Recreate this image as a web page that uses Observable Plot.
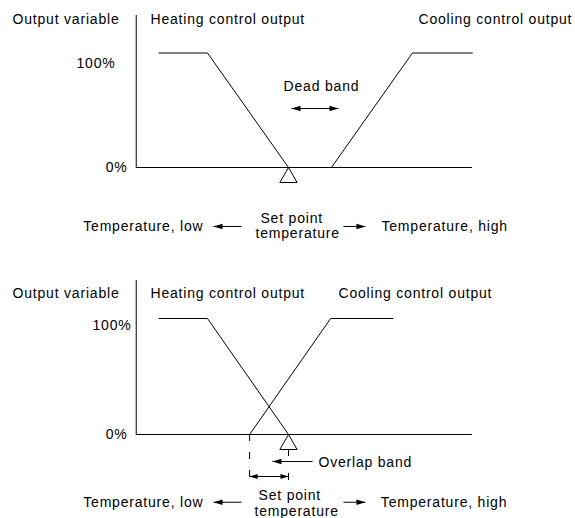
<!DOCTYPE html>
<html>
<head>
<meta charset="utf-8">
<script src="https://cdn.jsdelivr.net/npm/d3@7"></script>
<script src="https://cdn.jsdelivr.net/npm/@observablehq/plot@0.6"></script>
<style>
  body { margin: 0; background: #fff; }
  #chart svg { display: block; }
  #chart text { letter-spacing: 0.8px; }
</style>
</head>
<body>
<div id="chart"></div>
<script>
// Temperature is measured from the set point (units of proportional band / 10),
// output variable in percent.
const heatingX = [-16, -10, 0];
const heatingY = [100, 100, 0];
const coolingY = [0, 100, 100];
const deadBandCoolingX = [5.3, 15.3, 22.7];   // cooling starts after a dead band
const overlapCoolingX = [-4.8, 5.2, 12.9];    // cooling starts before the set point
const yTicks = [0, 100];
const yTickLabels = ["0%", "100%"];
const axisExtentX = [-18.8, 22.7];
const axisTopY = 132.8;

const toRows = (xs, ys) => xs.map((x, i) => ({x, y: ys[i]}));

// Filled arrowhead whose tip sits at the origin, pointing along +x.
const arrowHead = {
  draw(ctx, size) {
    const L = Math.sqrt(size / Math.PI);
    const W = L * 0.62;
    ctx.moveTo(0, 0);
    ctx.lineTo(-L, -W / 2);
    ctx.lineTo(-L, W / 2);
    ctx.closePath();
  }
};

function arrows(list, headLen) {
  return [
    Plot.link(list, {x1: "x1", x2: "x2", y1: "y", y2: "y", stroke: "black", strokeWidth: 1}),
    Plot.dot(list, {
      x: "x2", y: "y", symbol: arrowHead, r: headLen,
      rotate: d => (d.x2 < d.x1 ? 180 : 0), fill: "black", stroke: "none"
    })
  ];
}

// One text mark per anchor, since textAnchor is a constant option.
function labelMarks(labels) {
  return ["start", "middle", "end"].map(a =>
    Plot.text(labels.filter(d => d.anchor === a), {
      x: "x", y: "y", text: "text", textAnchor: a, fontSize: 14, fill: "black"
    })
  );
}

function panel({height, y100, coolingX, labels, tickLabelPos, extra}) {
  return Plot.plot({
    width: 575,
    height,
    x: {domain: [-10, 0], range: [207, 288], axis: null},
    y: {domain: [0, 100], range: [167, y100], axis: null},
    style: {
      fontFamily: "'Liberation Sans', Arial, Helvetica, sans-serif",
      fontSize: "14px",
      color: "black",
      background: "white",
      overflow: "visible"
    },
    marks: [
      // axes
      Plot.ruleX([axisExtentX[0]], {y1: 0, y2: axisTopY, stroke: "black"}),
      Plot.ruleY([0], {x1: axisExtentX[0], x2: axisExtentX[1], stroke: "black"}),
      // y tick labels
      Plot.text(yTicks, {
        x: (d, i) => tickLabelPos[i][0],
        y: (d, i) => d + tickLabelPos[i][1],
        text: (d, i) => yTickLabels[i],
        textAnchor: "end", fontSize: 14, fill: "black"
      }),
      // control outputs
      Plot.line(toRows(heatingX, heatingY), {x: "x", y: "y", stroke: "black", strokeWidth: 1}),
      Plot.line(toRows(coolingX, coolingY), {x: "x", y: "y", stroke: "black", strokeWidth: 1}),
      ...extra,
      // set point marker
      Plot.dot([0], {x: d => d, y: 0, symbol: "triangle", r: 6.43, dy: 10,
        fill: "white", stroke: "black", strokeWidth: 1}),
      ...labelMarks(labels)
    ]
  });
}

const deadBandPanel = panel({
  height: 267,
  y100: 52.5,
  coolingX: deadBandCoolingX,
  tickLabelPos: [[-19.88, 0], [-21.36, -9.2]],
  labels: [
    {x: -34.07, y: 129.3, text: "Output variable", anchor: "start"},
    {x: -17.04, y: 129.3, text: "Heating control output", anchor: "start"},
    {x: 16.05, y: 129.3, text: "Cooling control output", anchor: "start"},
    {x: 4.07, y: 70.7, text: "Dead band", anchor: "middle"},
    {x: -10.5, y: -51.5, text: "Temperature, low", anchor: "end"},
    {x: -3.46, y: -44.5, text: "Set point", anchor: "start"},
    {x: -4.07, y: -57.6, text: "temperature", anchor: "start"},
    {x: 11.48, y: -51.5, text: "Temperature, high", anchor: "start"}
  ],
  extra: [
    ...arrows([
      {x1: 3.27, x2: 0.37, y: 51.5},
      {x1: 3.27, x2: 6.17, y: 51.5},
      {x1: -5.8, x2: -9.26, y: -51.5},
      {x1: 6.79, x2: 9.5, y: -51.5}
    ], 9)
  ]
});

const overlapPanel = panel({
  height: 251,
  y100: 51,
  coolingX: overlapCoolingX,
  tickLabelPos: [[-19.88, 0], [-19.38, -6]],
  labels: [
    {x: -34.07, y: 121.6, text: "Output variable", anchor: "start"},
    {x: -17.04, y: 121.6, text: "Heating control output", anchor: "start"},
    {x: 6.17, y: 121.6, text: "Cooling control output", anchor: "start"},
    {x: 3.7, y: -24.1, text: "Overlap band", anchor: "start"},
    {x: -10.5, y: -58.4, text: "Temperature, low", anchor: "end"},
    {x: -3.7, y: -52.6, text: "Set point", anchor: "start"},
    {x: -4.2, y: -66.1, text: "temperature", anchor: "start"},
    {x: 11.4, y: -58.4, text: "Temperature, high", anchor: "start"}
  ],
  extra: [
    // overlap band dimension
    Plot.ruleX([overlapCoolingX[0]], {y1: 0, y2: -39.7, stroke: "black", strokeDasharray: "7,11"}),
    Plot.ruleX([0], {y1: -12.9, y2: -19, stroke: "black"}),
    Plot.ruleX([0], {y1: -33.6, y2: -39.7, stroke: "black"}),
    ...arrows([
      {x1: -2.4, x2: overlapCoolingX[0], y: -36.2},
      {x1: -2.4, x2: 0, y: -36.2}
    ], 8),
    ...arrows([
      {x1: 2.96, x2: -1.98, y: -23.3},
      {x1: -5.8, x2: -9.26, y: -58.4},
      {x1: 6.79, x2: 9.5, y: -58.4}
    ], 9)
  ]
});

document.getElementById("chart").append(deadBandPanel, overlapPanel);
</script>
</body>
</html>
